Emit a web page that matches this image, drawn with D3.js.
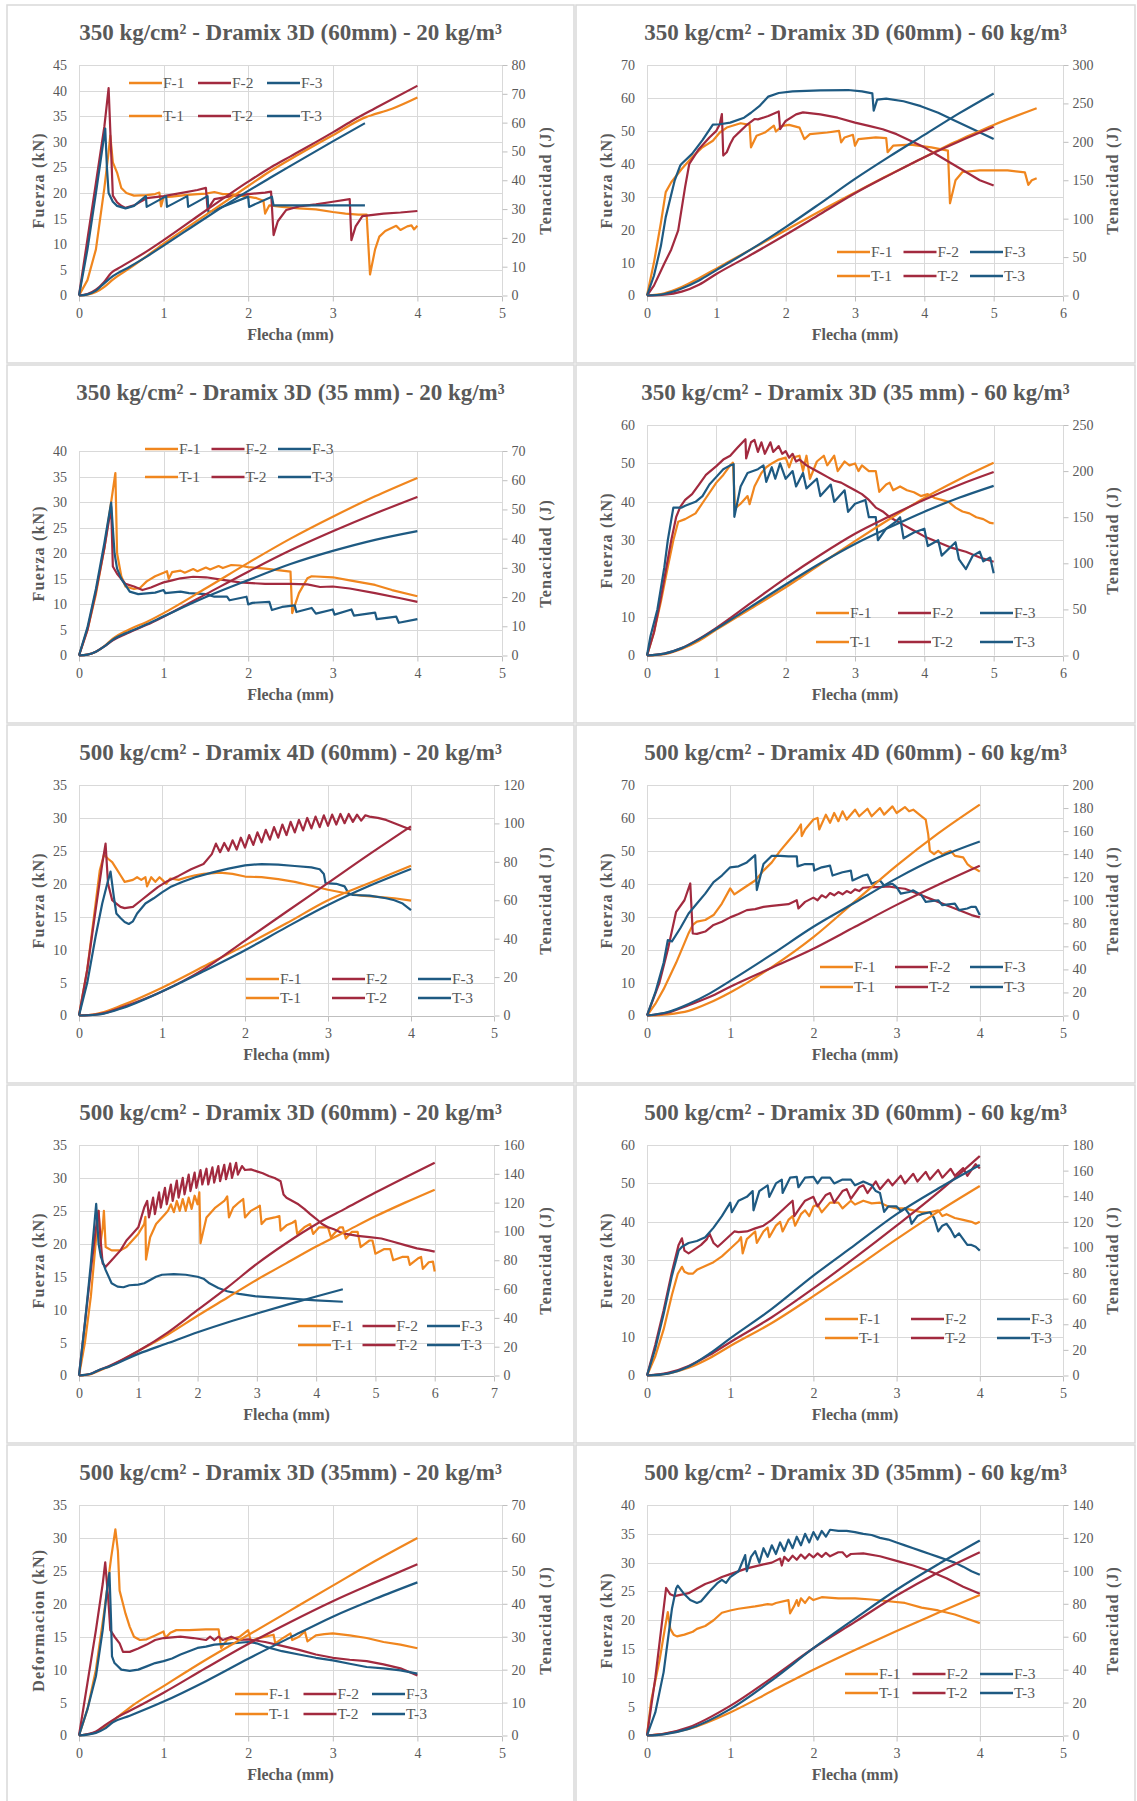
<!DOCTYPE html>
<html>
<head>
<meta charset="utf-8">
<script src="https://cdn.jsdelivr.net/npm/d3@7"></script>
<style>
body { margin: 0; background: #fff; }
svg text { font-family: "Liberation Serif", "Times New Roman", serif; fill: #595959; }
</style>
</head>
<body>
<script>
'use strict';

// ---- chart text and axes ----
const titles = [
	'350 kg/cm² - Dramix 3D (60mm) - 20 kg/m³',
	'350 kg/cm² - Dramix 3D (60mm) - 60 kg/m³',
	'350 kg/cm² - Dramix 3D (35 mm) - 20 kg/m³',
	'350 kg/cm² - Dramix 3D (35 mm) - 60 kg/m³',
	'500 kg/cm² - Dramix 4D (60mm) - 20 kg/m³',
	'500 kg/cm² - Dramix 4D (60mm) - 60 kg/m³',
	'500 kg/cm² - Dramix 3D (60mm) - 20 kg/m³',
	'500 kg/cm² - Dramix 3D (60mm) - 60 kg/m³',
	'500 kg/cm² - Dramix 3D (35mm) - 20 kg/m³',
	'500 kg/cm² - Dramix 3D (35mm) - 60 kg/m³'
];
const leftTitles = ['Fuerza (kN)', 'Fuerza (kN)', 'Fuerza (kN)', 'Fuerza (kN)', 'Fuerza (kN)',
	'Fuerza (kN)', 'Fuerza (kN)', 'Fuerza (kN)', 'Deformacion (kN)', 'Fuerza (kN)'];
const rightTitle = 'Tenacidad (J)';
const xTitle = 'Flecha (mm)';
const xMax = [5, 6, 5, 6, 5, 5, 7, 5, 5, 5];
const yMax = [45, 70, 40, 60, 35, 70, 35, 60, 35, 40];
const yStep = [5, 10, 5, 10, 5, 10, 5, 10, 5, 5];
const y2Max = [80, 300, 70, 250, 120, 200, 160, 180, 70, 140];
const y2Step = [10, 50, 10, 50, 20, 20, 20, 20, 10, 20];
const seriesNames = ['F-1', 'F-2', 'F-3', 'T-1', 'T-2', 'T-3'];

// ---- series: [flecha mm, value] (F on left axis, T on right axis) ----
const p1F1 = [[0,0],[0.1,3],[0.2,9],[0.3,21],[0.35,28],[0.37,31.2],[0.4,26],[0.45,24],[0.5,21],[0.56,20],[0.65,19.5],[0.8,19.6],[0.9,19.8],[0.95,20.1],[0.97,17.4],[1.0,19.2],[1.1,19.3],[1.25,19.6],[1.4,19.8],[1.5,19.9],[1.6,20.2],[1.7,19.8],[1.8,19.8],[1.9,19.5],[2.0,19.3],[2.1,19],[2.18,18.5],[2.2,16],[2.25,17.6],[2.4,17.3],[2.6,17],[2.8,16.8],[3.0,16.3],[3.15,16],[3.3,15.8],[3.4,15.8],[3.44,4.1],[3.5,9],[3.55,11.5],[3.62,12.6],[3.75,13.6],[3.8,12.8],[3.88,13.5],[3.93,13.7],[3.96,12.9],[4.0,13.6]];
const p1F2 = [[0,0],[0.1,11],[0.2,22],[0.3,33],[0.35,40.5],[0.38,28],[0.4,19.5],[0.45,18.2],[0.5,17.5],[0.55,17.1],[0.65,17.6],[0.8,19],[1.0,19.4],[1.2,20],[1.4,20.6],[1.5,21],[1.52,16.8],[1.6,18.8],[1.8,19.4],[2.0,19.8],[2.2,20.1],[2.27,20.3],[2.3,11.8],[2.35,14.5],[2.45,16.7],[2.6,17.4],[2.8,17.8],[3.0,18.3],[3.2,18.8],[3.22,10.8],[3.27,13.5],[3.35,15.5],[3.6,16],[3.8,16.2],[4.0,16.5]];
const p1F3 = [[0,0],[0.1,9],[0.2,20],[0.27,28],[0.31,32.6],[0.33,25],[0.35,20],[0.4,18.3],[0.45,17.5],[0.55,17],[0.65,17.5],[0.79,19.4],[0.8,17.3],[1.03,19.4],[1.04,17.3],[1.28,19.4],[1.29,17.3],[1.52,19.4],[1.53,16.2],[2.0,19.3],[2.01,17.3],[2.28,19.3],[2.3,17.6],[2.8,17.6],[3.38,17.6]];
const p1T1 = [[0,0],[0.1,0.3],[0.2,1.2],[0.3,3],[0.4,5.5],[0.6,9.5],[0.8,13.7],[1.0,18],[1.5,28],[2.0,38],[2.2,42],[2.6,49],[3.0,55.6],[3.4,62],[3.45,62.5],[3.7,64.8],[4.0,68.7]];
const p1T2 = [[0,0],[0.1,0.5],[0.2,2],[0.3,4.8],[0.38,7.8],[0.5,10],[0.8,15.3],[1.0,19.2],[1.5,29.5],[2.0,39.5],[2.27,44.5],[2.5,48.3],[3.0,56.6],[3.22,60.5],[3.5,65],[4.0,72.8]];
const p1T3 = [[0,0],[0.1,0.4],[0.2,1.7],[0.3,4.3],[0.4,6.7],[0.6,10],[0.8,13.5],[1.0,17.3],[1.5,27],[2.0,36.3],[2.28,41.2],[2.5,45],[3.0,53.5],[3.38,59.8]];

const p2F1 = [[0,0],[0.1,10],[0.2,22],[0.27,31.4],[0.35,34.4],[0.5,38.4],[0.65,42],[0.8,45],[0.95,47],[1.05,49.5],[1.15,51],[1.35,52.3],[1.48,51.8],[1.5,45],[1.58,48.5],[1.7,49.5],[1.83,51.6],[1.86,49.8],[1.95,51.5],[2.05,51.8],[2.2,51],[2.27,47.5],[2.35,49],[2.6,49.5],[2.77,50],[2.8,46.5],[2.85,48],[2.97,48.8],[3.0,45.5],[3.05,47.5],[3.3,48],[3.45,47.8],[3.47,43.5],[3.55,45.5],[3.8,45.8],[4.1,45],[4.34,44],[4.37,28],[4.45,35],[4.55,37.5],[4.8,38],[5.2,38],[5.45,37.4],[5.5,33.6],[5.55,35],[5.62,35.6]];
const p2F2 = [[0,0],[0.1,3],[0.25,9.7],[0.35,14],[0.45,19.8],[0.55,33],[0.61,40],[0.75,44.5],[0.9,48],[1.0,50],[1.05,52],[1.08,55.1],[1.1,42.5],[1.15,43.5],[1.2,46],[1.25,48],[1.35,50],[1.45,52],[1.55,53.6],[1.6,53.5],[1.75,54.5],[1.9,55.9],[1.92,50.5],[2.0,53],[2.15,55],[2.25,55.6],[2.5,55],[2.75,54],[3.0,52.5],[3.2,51.5],[3.4,50.5],[3.6,49],[3.8,47],[4.0,45],[4.2,42.5],[4.4,40],[4.6,37.5],[4.8,35],[5.0,33.4]];
const p2F3 = [[0,0],[0.1,6],[0.2,15],[0.27,23.8],[0.4,35],[0.48,39.5],[0.5,40],[0.65,43],[0.8,47.2],[0.95,51.9],[1.05,52],[1.2,52.5],[1.4,54],[1.5,55.5],[1.62,57.5],[1.75,60.4],[1.9,61.5],[2.1,62],[2.5,62.3],[2.9,62.4],[3.1,62],[3.25,61.4],[3.27,56.1],[3.32,59.5],[3.45,59.8],[3.7,59],[3.95,57.5],[4.2,55.5],[4.45,53],[4.75,50],[5.0,47.5]];
const p2T1 = [[0,0],[0.25,3],[0.5,11],[0.75,22.5],[1.0,35],[1.5,60],[2.0,85],[2.5,110],[3.0,134],[3.5,157.5],[4.0,180],[4.35,196],[4.5,202],[5.0,222],[5.62,243.8]];
const p2T2 = [[0,0],[0.25,1],[0.5,5],[0.75,14],[1.0,28],[1.5,53],[2.0,79],[2.5,106],[3.0,133],[3.5,157],[4.0,180],[4.5,200.5],[5.0,219.6]];
const p2T3 = [[0,0],[0.25,2],[0.5,9],[0.75,19.5],[1.0,33],[1.5,60],[2.0,89],[2.5,120],[3.0,151.7],[3.5,181],[4.0,209],[4.5,237],[5.0,263]];

const p3F1 = [[0,0],[0.1,5],[0.2,12],[0.3,21],[0.38,30],[0.43,35.7],[0.45,20],[0.5,15.5],[0.55,13.5],[0.65,13],[0.72,13.2],[0.8,14.5],[0.9,15.5],[1.0,16.2],[1.04,16.5],[1.06,15],[1.1,16.3],[1.2,16.6],[1.25,16.2],[1.35,16.9],[1.4,16.5],[1.5,17.2],[1.55,16.8],[1.65,17.5],[1.7,17.1],[1.8,17.7],[1.9,17.6],[2.0,17.3],[2.2,17],[2.4,16.6],[2.5,16.4],[2.52,8.3],[2.6,12.2],[2.7,15.1],[2.75,15.5],[3.0,15.3],[3.2,14.7],[3.5,13.8],[3.7,12.8],[4.0,11.6]];
const p3F2 = [[0,0],[0.1,5],[0.2,12.5],[0.3,21],[0.38,29.1],[0.4,17.4],[0.45,16],[0.55,14],[0.65,13.5],[0.75,12.8],[0.85,13.3],[0.95,14],[1.0,14.3],[1.1,14.7],[1.2,15.1],[1.35,15.4],[1.5,15.3],[1.7,14.8],[1.9,14.3],[2.2,14],[2.5,14],[2.7,13.9],[2.85,13.4],[3.0,13.5],[3.2,13.1],[3.5,12.2],[3.8,11.2],[4.0,10.5]];
const p3F3 = [[0,0],[0.1,5.5],[0.2,13],[0.3,22],[0.38,29.9],[0.42,20],[0.45,17],[0.5,15],[0.6,12.5],[0.7,12],[0.9,12.3],[1.0,12.8],[1.02,12.2],[1.2,12.5],[1.3,12.2],[1.5,12],[1.6,11.5],[1.75,11.5],[1.78,10.8],[1.98,11.5],[2.0,10],[2.05,10.3],[2.25,10.5],[2.28,8.9],[2.4,9.5],[2.55,9.8],[2.57,8.5],[2.75,9.3],[2.8,8.2],[3.0,9],[3.02,8],[3.22,9],[3.25,7.8],[3.5,8.4],[3.52,7.1],[3.75,7.6],[3.78,6.4],[4.0,7.1]];
const p3T1 = [[0,0],[0.1,0.3],[0.2,1.3],[0.3,3.2],[0.4,5.8],[0.6,9],[0.8,11.5],[1.0,14.5],[1.5,23],[2.0,31.7],[2.5,40],[3.0,47.5],[3.5,54.5],[4.0,60.8]];
const p3T2 = [[0,0],[0.1,0.3],[0.2,1.3],[0.3,3.1],[0.4,5.2],[0.6,8],[0.8,10.5],[1.0,13.3],[1.5,21],[2.0,28.7],[2.5,36],[3.0,42.5],[3.5,48.6],[4.0,54.3]];
const p3T3 = [[0,0],[0.1,0.3],[0.2,1.3],[0.3,3.1],[0.4,5.4],[0.6,8.2],[0.8,10.7],[1.0,13.4],[1.5,20],[2.0,25.8],[2.5,31.3],[3.0,35.8],[3.5,39.6],[4.0,42.6]];

const p4F1 = [[0,0],[0.1,6],[0.2,14],[0.3,23],[0.38,30],[0.45,34.8],[0.55,35.5],[0.7,37],[0.85,41],[1.0,45],[1.1,47],[1.2,49.5],[1.24,50.2],[1.27,38.3],[1.35,39.5],[1.45,41.5],[1.48,39.4],[1.55,44],[1.65,47.5],[1.72,49],[1.8,50],[1.9,51],[2.0,51.5],[2.05,49],[2.1,51.5],[2.2,52],[2.25,48],[2.3,52],[2.35,46],[2.45,50.5],[2.55,52],[2.6,49.5],[2.7,52],[2.75,48],[2.85,50.5],[2.92,49.5],[3.0,50],[3.05,48],[3.1,49.5],[3.2,48],[3.3,48],[3.35,42.6],[3.45,44.5],[3.5,45],[3.55,43],[3.65,44],[3.75,43],[3.85,42.5],[3.95,41.5],[4.05,42],[4.15,41],[4.25,40.5],[4.35,40],[4.45,38.5],[4.55,37.5],[4.65,37],[4.75,36],[4.85,35.5],[4.95,34.5],[5.0,34.4]];
const p4F2 = [[0,0],[0.1,6],[0.2,15],[0.3,25],[0.35,30],[0.42,36],[0.48,38.7],[0.55,40.5],[0.65,42],[0.75,44.5],[0.85,47],[1.0,49.3],[1.1,51],[1.2,52],[1.3,54],[1.42,56.3],[1.43,51.3],[1.5,55.5],[1.55,56.1],[1.6,53],[1.65,55.5],[1.7,52.5],[1.78,55.5],[1.82,53],[1.9,54.5],[1.95,52.5],[2.0,53.2],[2.05,51.5],[2.1,52.5],[2.15,50.5],[2.2,51],[2.3,49.5],[2.4,48.5],[2.5,47.5],[2.6,46.5],[2.7,45.5],[2.8,45],[2.9,44],[3.0,43],[3.1,42],[3.2,40.5],[3.3,38.5],[3.4,37.5],[3.5,36],[3.6,35],[3.7,34],[3.8,33],[3.9,32],[4.0,31],[4.2,29.5],[4.4,28],[4.6,27],[4.8,25.5],[5.0,24.4]];
const p4F3 = [[0,0],[0.05,5],[0.15,12],[0.25,23],[0.3,30],[0.38,38.5],[0.5,38.5],[0.55,39],[0.7,40],[0.8,41.5],[0.9,44.5],[1.0,46.5],[1.1,48.5],[1.2,49.5],[1.25,49.8],[1.26,36.1],[1.35,44],[1.45,47.5],[1.6,48.5],[1.68,49.5],[1.72,45.2],[1.8,49],[1.85,46],[1.92,50],[2.0,46],[2.1,48],[2.15,44],[2.25,47.5],[2.3,43.5],[2.45,46],[2.5,41.5],[2.65,44.5],[2.7,40],[2.85,43],[2.9,37.4],[3.0,39.5],[3.15,40.5],[3.2,36],[3.3,36],[3.33,30],[3.45,33],[3.6,35],[3.65,36],[3.7,30.5],[3.85,32],[4.0,33],[4.05,28.5],[4.2,30],[4.25,26],[4.45,29.5],[4.5,25],[4.6,22.5],[4.7,26],[4.8,27],[4.85,24.5],[4.95,25.5],[5.0,21.4]];
const p4T1 = [[0,0],[0.25,1.5],[0.5,7],[0.75,16],[1.0,28],[1.5,51],[2.0,74],[2.5,99],[3.0,124],[3.5,148],[4.0,171],[4.5,191],[5.0,209]];
const p4T2 = [[0,0],[0.25,2],[0.5,8],[0.75,18],[1.0,30],[1.5,57],[2.0,84],[2.5,109],[3.0,132],[3.5,151],[4.0,169],[4.5,185],[5.0,199]];
const p4T3 = [[0,0],[0.25,2],[0.5,8],[0.75,17.5],[1.0,29],[1.5,53],[2.0,77],[2.5,100],[3.0,121],[3.5,139],[4.0,156],[4.5,171],[5.0,184]];

const p5F1 = [[0,0],[0.1,7],[0.2,17],[0.25,22],[0.3,24.4],[0.35,23.8],[0.4,23.3],[0.45,22.3],[0.5,21.3],[0.55,20.3],[0.65,20.6],[0.7,21],[0.75,20.6],[0.8,21],[0.82,19.6],[0.87,21],[0.92,20.3],[0.97,21],[1.02,20.4],[1.05,20],[1.1,20.8],[1.2,20.6],[1.3,21],[1.4,21.3],[1.5,21.5],[1.7,21.7],[1.85,21.5],[2.0,21.1],[2.2,21],[2.4,20.7],[2.6,20.3],[2.8,19.7],[3.0,19.1],[3.2,18.6],[3.4,18.2],[3.6,18],[3.8,17.8],[4.0,17.45]];
const p5F2 = [[0,0],[0.1,7],[0.2,16],[0.28,23],[0.32,26.1],[0.35,20],[0.4,17.5],[0.45,17],[0.5,16.5],[0.55,16.3],[0.65,16.5],[0.75,17.5],[0.85,18.5],[0.95,19.5],[1.05,20.3],[1.2,21.2],[1.35,22.2],[1.5,23],[1.6,24.5],[1.65,26.1],[1.7,24.8],[1.75,26.2],[1.8,25],[1.85,26.6],[1.9,25.2],[1.95,27],[2.0,25.5],[2.05,27.4],[2.1,25.9],[2.15,27.8],[2.2,26.3],[2.25,28.2],[2.3,26.7],[2.35,28.6],[2.4,27],[2.45,29],[2.5,27.4],[2.55,29.4],[2.6,27.8],[2.65,29.7],[2.7,28.1],[2.75,30],[2.8,28.4],[2.85,30.2],[2.9,28.6],[2.95,30.4],[3.0,28.8],[3.05,30.5],[3.1,29],[3.15,30.6],[3.2,29.2],[3.25,30.6],[3.3,29.4],[3.35,30.5],[3.4,29.6],[3.45,30.4],[3.5,30.2],[3.6,30],[3.7,29.7],[3.8,29.2],[3.9,28.7],[4.0,28.2]];
const p5F3 = [[0,0],[0.1,5],[0.2,12],[0.28,17],[0.33,19.5],[0.38,21.85],[0.42,18],[0.45,15.5],[0.5,14.8],[0.55,14.2],[0.6,13.9],[0.65,14.3],[0.7,15.5],[0.8,17],[0.9,17.8],[1.0,18.7],[1.1,19.5],[1.25,20.3],[1.4,21],[1.6,21.7],[1.8,22.3],[2.0,22.8],[2.2,23],[2.4,22.9],[2.6,22.7],[2.8,22.5],[2.9,22.2],[2.95,21.5],[2.97,20.1],[3.1,20],[3.2,19.6],[3.25,18.5],[3.3,18.3],[3.5,18.2],[3.7,17.8],[3.8,17.5],[3.9,17],[4.0,16]];
const p5T1 = [[0,0],[0.2,0.8],[0.3,1.8],[0.5,5],[1.0,14.5],[1.5,25.5],[2.0,36.5],[2.5,48],[3.0,60],[3.5,69],[4.0,78]];
const p5T2 = [[0,0],[0.2,0.5],[0.3,1.2],[0.5,4],[1.0,12.5],[1.5,24],[2.0,39],[2.5,54],[3.0,69],[3.5,84],[4.0,98.5]];
const p5T3 = [[0,0],[0.2,0.4],[0.3,1],[0.5,3.5],[1.0,12.5],[1.5,23],[2.0,34],[2.5,46],[3.0,57.5],[3.5,67.5],[4.0,76.3]];

const p6F1 = [[0,0],[0.1,3.5],[0.2,8],[0.35,16],[0.45,22],[0.5,25],[0.55,27.5],[0.6,28.5],[0.7,29],[0.8,30.5],[0.9,34],[1.0,38.6],[1.05,36.8],[1.15,38.5],[1.3,41],[1.4,44],[1.5,46.5],[1.6,50],[1.7,53],[1.8,56],[1.85,58],[1.86,54.5],[1.9,56.5],[2.0,59.5],[2.05,60],[2.07,56.5],[2.15,61],[2.2,58.5],[2.25,61.5],[2.3,59],[2.35,62],[2.4,59.5],[2.5,62.5],[2.55,60.5],[2.65,62.8],[2.7,60.5],[2.8,63],[2.85,61],[2.95,63.5],[3.0,61.5],[3.1,63.3],[3.15,62],[3.2,62.5],[3.3,60.5],[3.35,59.5],[3.38,55],[3.4,50],[3.45,49],[3.5,50],[3.55,49],[3.65,50],[3.7,48.5],[3.8,48],[3.85,46],[3.9,45],[3.95,44.5],[4.0,43.7]];
const p6F2 = [[0,0],[0.15,10],[0.25,20],[0.35,31.5],[0.45,35],[0.52,40.1],[0.55,24.9],[0.6,24.8],[0.7,25.5],[0.8,27.5],[0.9,28.5],[1.0,29.8],[1.1,30.8],[1.2,32],[1.3,32.3],[1.4,33],[1.5,33.3],[1.7,33.8],[1.8,35],[1.82,32.5],[1.9,34.5],[2.0,35.8],[2.05,35],[2.1,36.5],[2.15,35.8],[2.2,37.2],[2.25,36.5],[2.3,37.5],[2.35,36.8],[2.4,37.8],[2.45,37.2],[2.5,38.3],[2.55,37.8],[2.6,38.8],[2.7,39],[2.8,39],[2.9,39.2],[3.0,38.8],[3.1,38.5],[3.2,37.5],[3.3,36.5],[3.4,35.5],[3.5,34.5],[3.6,33.5],[3.7,32.5],[3.8,31.5],[3.9,30.5],[4.0,29.8]];
const p6F3 = [[0,0],[0.1,7],[0.2,16],[0.25,22.9],[0.3,22.5],[0.4,26.5],[0.5,31],[0.6,34],[0.7,37],[0.8,40.5],[0.9,42.5],[1.0,45],[1.1,45.3],[1.2,46.5],[1.3,48.7],[1.32,38.1],[1.4,46],[1.5,48.5],[1.6,48.5],[1.7,48.3],[1.8,48.3],[1.81,45.3],[1.9,46],[2.0,46],[2.01,44],[2.1,45],[2.2,45.5],[2.23,42.5],[2.35,43.5],[2.45,44],[2.47,41],[2.6,42.5],[2.65,42.8],[2.7,40],[2.8,41],[2.85,39.5],[2.95,40],[3.0,39],[3.05,37],[3.15,37.5],[3.2,38],[3.3,36.5],[3.35,34.5],[3.5,35],[3.55,33.5],[3.7,34],[3.75,32],[3.85,32.5],[3.9,33],[3.95,33],[4.0,30.5]];
const p6T1 = [[0,0],[0.25,1],[0.5,4],[0.75,11],[1.0,20],[1.5,42],[2.0,68],[2.5,99],[3.0,130],[3.5,158],[4.0,183]];
const p6T2 = [[0,0],[0.25,2.5],[0.5,9],[0.75,16],[1.0,25],[1.5,41.5],[2.0,58],[2.5,77],[3.0,96],[3.5,113.5],[4.0,130]];
const p6T3 = [[0,0],[0.25,3],[0.5,10],[0.75,19],[1.0,30],[1.5,53],[2.0,77],[2.5,98],[3.0,119],[3.5,137],[4.0,151]];

const p7F1 = [[0,0],[0.1,5],[0.2,12],[0.3,22],[0.33,25],[0.36,20],[0.4,22.5],[0.42,25],[0.45,19.5],[0.55,19],[0.7,19],[0.8,19.5],[0.9,20.5],[1.0,21.5],[1.1,23],[1.12,24.1],[1.13,17.6],[1.2,21],[1.3,23],[1.45,24.5],[1.5,25],[1.55,26],[1.6,24.8],[1.65,26.5],[1.7,25],[1.75,26.8],[1.8,25],[1.85,27],[1.9,25.3],[1.95,27.3],[2.0,26],[2.03,27.8],[2.05,20.1],[2.15,24],[2.3,25.5],[2.45,26.5],[2.5,27.2],[2.53,24],[2.6,25.5],[2.7,26.3],[2.77,26.8],[2.8,24],[2.9,25],[3.0,25.5],[3.05,25.8],[3.08,23],[3.15,23.7],[3.3,24],[3.38,24.2],[3.4,22],[3.5,22.8],[3.6,23.2],[3.65,23.5],[3.68,21.5],[3.8,22.5],[3.9,23],[3.95,21.5],[4.05,22.5],[4.2,22.5],[4.25,21],[4.4,22.5],[4.45,22.5],[4.5,20.8],[4.6,21.8],[4.7,21.8],[4.75,19.5],[4.9,20.5],[4.95,20.5],[5.0,18.5],[5.15,19.2],[5.25,19.2],[5.3,17.5],[5.45,18],[5.55,18],[5.58,16.8],[5.72,17.8],[5.77,18],[5.8,16.2],[5.9,17.2],[5.97,17.3],[6.0,15.8]];
const p7F2 = [[0,0],[0.1,8],[0.2,16],[0.28,22],[0.33,25],[0.37,20],[0.4,17],[0.45,16.5],[0.55,17.5],[0.7,19],[0.8,20.5],[0.9,21.5],[1.0,22.5],[1.05,24],[1.1,25.5],[1.15,26.5],[1.18,24],[1.25,27],[1.28,24.5],[1.35,27.8],[1.38,25.5],[1.45,28.5],[1.48,26],[1.55,29],[1.58,26.5],[1.65,29.6],[1.68,27],[1.75,30],[1.78,27.5],[1.85,30.5],[1.88,28],[1.95,30.8],[1.98,28.5],[2.05,31.2],[2.08,29],[2.15,31.4],[2.18,29],[2.25,31.6],[2.28,29.3],[2.35,31.8],[2.38,29.5],[2.45,32],[2.48,29.8],[2.55,32.2],[2.58,30],[2.65,32.3],[2.68,30.5],[2.75,31.8],[2.8,31.2],[2.9,31.3],[3.0,31],[3.1,30.7],[3.2,30.3],[3.3,30],[3.4,29.5],[3.45,27.5],[3.5,27],[3.6,26.5],[3.7,26],[3.8,25.3],[3.9,24.5],[4.0,23.8],[4.1,23],[4.2,22.5],[4.3,22.2],[4.4,21.8],[4.5,21.5],[4.7,21.2],[4.9,21],[5.1,20.8],[5.3,20.3],[5.5,19.8],[5.7,19.3],[5.9,19],[6.0,18.8]];
const p7F3 = [[0,0],[0.1,8],[0.2,17],[0.29,26.05],[0.33,20],[0.37,18],[0.45,16],[0.55,14],[0.65,13.5],[0.75,13.4],[0.85,13.7],[1.0,13.8],[1.1,14],[1.2,14.5],[1.3,15],[1.4,15.3],[1.6,15.4],[1.8,15.3],[2.0,15],[2.1,14.7],[2.2,14],[2.35,13.3],[2.5,12.8],[2.7,12.4],[3.0,12],[3.5,11.7],[4.0,11.4],[4.45,11.2]];
const p7T1 = [[0,0],[0.2,1],[0.35,3.5],[0.5,6],[1.0,17],[1.5,28.5],[2.0,41.5],[2.5,54],[3.0,66.5],[3.5,78],[4.0,89.5],[4.5,100],[5.0,110.5],[5.5,120],[6.0,129]];
const p7T2 = [[0,0],[0.2,1.2],[0.35,4],[0.5,6.5],[1.0,17],[1.5,30],[2.0,45.5],[2.5,61],[3.0,77.5],[3.5,92],[4.0,105],[4.5,116],[5.0,127],[5.5,137.5],[6.0,147.7]];
const p7T3 = [[0,0],[0.2,1.2],[0.35,4],[0.5,6],[1.0,15],[1.5,22.5],[2.0,30],[2.5,36.8],[3.0,43],[3.5,49],[4.0,54.8],[4.45,59.9]];

const p8F1 = [[0,0],[0.1,5],[0.2,12],[0.3,21],[0.37,26.5],[0.42,28.3],[0.45,27],[0.5,26.5],[0.55,26.5],[0.6,27.5],[0.7,28.5],[0.8,29.5],[0.9,31],[1.0,33],[1.1,35],[1.13,36],[1.15,31.8],[1.2,35.5],[1.3,37.5],[1.32,34.5],[1.4,37.5],[1.45,38.5],[1.47,36],[1.55,39],[1.6,40],[1.63,37.5],[1.7,40.5],[1.75,41.5],[1.78,39],[1.85,42],[1.9,43],[1.95,41.5],[2.0,44],[2.05,44.5],[2.1,42.5],[2.2,45],[2.3,45],[2.35,43.5],[2.45,45.5],[2.5,44.5],[2.6,45.5],[2.7,44.8],[2.8,45],[2.9,44],[3.0,43.5],[3.1,43.5],[3.2,43],[3.3,42.5],[3.4,42.5],[3.5,43],[3.55,41.5],[3.6,42],[3.7,41],[3.8,40.5],[3.9,40],[3.95,39.5],[4.0,40]];
const p8F2 = [[0,0],[0.1,8],[0.2,17],[0.3,27],[0.38,34],[0.42,35.7],[0.45,32.5],[0.5,31.8],[0.55,32.5],[0.65,34],[0.72,35.5],[0.75,37],[0.8,34.5],[0.85,33.5],[0.9,34.5],[1.0,36.5],[1.05,37.5],[1.1,37.3],[1.2,37.5],[1.3,38.3],[1.4,39],[1.5,40.5],[1.6,42.5],[1.7,44.5],[1.75,45.5],[1.77,41.5],[1.85,44],[1.9,45.5],[2.0,46.5],[2.05,44],[2.15,47],[2.2,47.5],[2.25,45],[2.35,48],[2.4,48.5],[2.45,46],[2.55,49],[2.6,49.5],[2.65,47.5],[2.75,50.5],[2.8,48.5],[2.9,51],[2.95,49.5],[3.05,52],[3.1,50],[3.2,52.5],[3.25,50.5],[3.35,53],[3.4,51],[3.5,53.5],[3.55,51.5],[3.65,53.8],[3.7,52],[3.8,54],[3.85,52],[3.95,55],[4.0,53.9]];
const p8F3 = [[0,0],[0.1,7],[0.2,16],[0.3,26],[0.38,32.5],[0.42,33.5],[0.5,34.5],[0.6,35],[0.7,36],[0.8,38.5],[0.9,41.5],[1.0,45],[1.02,42.5],[1.1,45.5],[1.2,46.5],[1.27,48],[1.28,43],[1.35,48],[1.45,49.5],[1.47,46.5],[1.55,50],[1.62,51],[1.63,47.5],[1.72,51.5],[1.8,51.7],[1.82,49],[1.9,51.5],[2.0,51.7],[2.05,50],[2.1,51.5],[2.2,51.5],[2.25,50],[2.35,51],[2.45,51],[2.5,49.5],[2.6,50.5],[2.7,49.5],[2.75,48],[2.8,47.5],[2.85,42.6],[2.9,44],[3.0,44],[3.05,42.8],[3.1,43.5],[3.15,42],[3.18,39.5],[3.25,41.5],[3.3,42],[3.4,42.5],[3.45,41],[3.5,37.5],[3.55,39],[3.6,39.5],[3.65,38],[3.7,36],[3.75,37],[3.8,35.5],[3.85,34],[3.9,34],[3.95,33.5],[4.0,32.5]];
const p8T1 = [[0,0],[0.25,1.5],[0.5,6],[0.75,13.5],[1.0,23],[1.5,41],[2.0,62],[2.5,84],[3.0,106.5],[3.5,128],[4.0,148]];
const p8T2 = [[0,0],[0.25,2],[0.5,7.5],[0.75,16],[1.0,26],[1.5,45.5],[2.0,68],[2.5,92],[3.0,117],[3.5,143],[4.0,171.4]];
const p8T3 = [[0,0],[0.25,1.5],[0.5,7],[0.75,17],[1.0,29],[1.5,52],[2.0,78],[2.5,102],[3.0,126],[3.5,146],[4.0,164.4]];

const p9F1 = [[0,0],[0.1,4],[0.2,10],[0.3,19],[0.38,27],[0.43,31.3],[0.46,28],[0.48,22],[0.52,20],[0.55,18.5],[0.6,16.5],[0.65,15],[0.72,14.5],[0.8,14.6],[0.9,15.2],[1.0,15.8],[1.02,14.8],[1.08,15.6],[1.15,16],[1.3,16],[1.5,16.1],[1.65,16.1],[1.68,13.3],[1.75,14.5],[1.9,15],[1.95,15.5],[2.0,16],[2.03,14.3],[2.1,14.7],[2.3,15.3],[2.32,14],[2.4,14.7],[2.5,15.5],[2.52,14.5],[2.6,15],[2.67,15.8],[2.7,14.3],[2.8,15.2],[2.9,15.4],[3.0,15.5],[3.2,15.2],[3.4,14.8],[3.6,14.2],[3.8,13.8],[4.0,13.25]];
const p9F2 = [[0,0],[0.1,8],[0.2,16],[0.28,23],[0.31,26.3],[0.35,20],[0.37,16],[0.42,15],[0.48,14],[0.52,12.7],[0.6,12.7],[0.7,13.2],[0.8,13.8],[0.9,14.5],[1.0,14.8],[1.2,15],[1.35,14.8],[1.5,14.5],[1.55,15],[1.6,14.5],[1.65,15],[1.7,14.5],[1.8,15],[1.9,14.5],[2.0,14.6],[2.2,14.2],[2.4,13.6],[2.6,13],[2.8,12.3],[3.0,11.8],[3.2,11.5],[3.4,11.3],[3.6,10.8],[3.8,10.2],[4.0,9.1]];
const p9F3 = [[0,0],[0.1,4],[0.2,9],[0.28,16],[0.33,22],[0.36,24.7],[0.38,17],[0.39,12],[0.42,11],[0.5,10],[0.6,9.8],[0.7,10],[0.8,10.5],[0.9,11],[1.0,11.3],[1.1,11.7],[1.2,12.3],[1.3,12.8],[1.4,13.3],[1.5,13.5],[1.6,13.8],[1.8,14],[2.0,14.2],[2.1,14],[2.2,13.5],[2.4,12.8],[2.6,12.3],[2.8,11.8],[3.0,11.4],[3.2,10.9],[3.4,10.4],[3.6,10.2],[3.8,9.9],[4.0,9.4]];
const p9T1 = [[0,0],[0.2,1],[0.3,2.5],[0.45,5.5],[0.6,8.5],[1.0,15],[1.5,23],[2.0,30.5],[2.5,38],[3.0,45.5],[3.5,53],[4.0,60]];
const p9T2 = [[0,0],[0.2,1.2],[0.3,3],[0.45,5.5],[0.6,7.5],[1.0,13],[1.5,20.5],[2.0,27.8],[2.5,34.5],[3.0,40.8],[3.5,46.5],[4.0,52]];
const p9T3 = [[0,0],[0.2,0.8],[0.3,2],[0.4,4],[0.6,6],[1.0,10.3],[1.5,16.5],[2.0,23.3],[2.5,29.8],[3.0,36.1],[3.5,41.5],[4.0,46.5]];

const p10F1 = [[0,0],[0.05,6],[0.15,13],[0.22,19],[0.25,21.4],[0.28,18.5],[0.32,17.5],[0.36,17.2],[0.45,17.5],[0.55,18],[0.6,18.5],[0.7,19],[0.8,20],[0.9,21.3],[1.0,21.7],[1.1,22],[1.3,22.4],[1.45,22.8],[1.5,22.7],[1.55,23],[1.7,23.5],[1.72,21.2],[1.77,22.5],[1.8,23.5],[1.82,22.5],[1.85,23.8],[1.9,23],[1.95,24],[2.0,23.5],[2.1,24],[2.3,23.8],[2.5,23.8],[2.7,23.6],[2.9,23.3],[3.1,23],[3.3,22.2],[3.5,21.7],[3.7,21],[3.9,20],[4.0,19.5]];
const p10F2 = [[0,0],[0.1,10],[0.2,22],[0.23,25.6],[0.28,24.5],[0.33,24.2],[0.4,24.4],[0.5,24.7],[0.6,25.5],[0.7,26.3],[0.8,26.8],[0.9,27.5],[1.0,28],[1.2,29],[1.4,29.7],[1.5,30],[1.6,30.7],[1.62,29.5],[1.65,31],[1.7,30.3],[1.75,31.2],[1.8,30.5],[1.85,31.4],[1.9,30.7],[1.95,31.5],[2.0,30.9],[2.05,31.6],[2.1,31],[2.15,31.7],[2.2,31.1],[2.3,31.8],[2.35,31.8],[2.4,31],[2.45,31.5],[2.6,31.6],[2.8,31.1],[3.0,30.3],[3.2,29.5],[3.4,28.5],[3.6,27.3],[3.8,25.8],[4.0,24.6]];
const p10F3 = [[0,0],[0.1,4],[0.2,11],[0.3,22],[0.35,25.5],[0.37,26],[0.45,24.5],[0.52,23.5],[0.6,23],[0.65,23.3],[0.75,25],[0.85,26.5],[0.9,27],[0.95,26.5],[1.0,27.5],[1.1,28.5],[1.18,31.3],[1.2,28.5],[1.25,31],[1.3,32],[1.35,30],[1.4,32.5],[1.45,31],[1.5,33],[1.55,31.5],[1.6,33.5],[1.65,32],[1.7,34],[1.75,32.5],[1.8,34.5],[1.85,33],[1.9,35],[1.95,33.5],[2.0,35.3],[2.05,34],[2.1,35.5],[2.15,34.5],[2.2,35.7],[2.3,35.5],[2.4,35.5],[2.5,35.3],[2.6,35],[2.7,34.8],[2.8,34.3],[2.9,34],[3.0,33.5],[3.1,33],[3.2,32.5],[3.3,32],[3.4,31.5],[3.5,31],[3.6,30.5],[3.7,30],[3.8,29.3],[3.9,28.5],[4.0,27.9]];
const p10T1 = [[0,0],[0.2,1],[0.5,4],[1.0,14],[1.5,27],[2.0,40],[2.5,52],[3.0,63.5],[3.5,74.5],[4.0,85.4]];
const p10T2 = [[0,0],[0.2,1],[0.5,5],[1.0,18],[1.5,35],[2.0,53],[2.5,69],[3.0,85],[3.5,99],[4.0,111.3]];
const p10T3 = [[0,0],[0.2,0.7],[0.5,4],[1.0,16],[1.5,33.5],[2.0,53],[2.5,71],[3.0,88.5],[3.5,104],[4.0,118.4]];

const panelSeries = [
	[p1F1, p1F2, p1F3, p1T1, p1T2, p1T3],
	[p2F1, p2F2, p2F3, p2T1, p2T2, p2T3],
	[p3F1, p3F2, p3F3, p3T1, p3T2, p3T3],
	[p4F1, p4F2, p4F3, p4T1, p4T2, p4T3],
	[p5F1, p5F2, p5F3, p5T1, p5T2, p5T3],
	[p6F1, p6F2, p6F3, p6T1, p6T2, p6T3],
	[p7F1, p7F2, p7F3, p7T1, p7T2, p7T3],
	[p8F1, p8F2, p8F3, p8T1, p8T2, p8T3],
	[p9F1, p9F2, p9F3, p9T1, p9T2, p9T3],
	[p10F1, p10F2, p10F3, p10T1, p10T2, p10T3]
];

// ---- layout (pixels, relative to each cell) ----
const FONT = '"Liberation Serif", "Times New Roman", serif';
const colors = ['#F0861E', '#A22A3F', '#1E5A82'];
const colX = [0, 570];
const rowY = [0, 360, 720, 1080, 1440];
const frames = [
	{left: 79, right: 502, top: 65, lx: 129, ly: [83, 116], ldx: 69},
	{left: 77, right: 493, top: 65, lx: 267, ly: [252, 276], ldx: 66.5},
	{left: 79, right: 502, top: 91, lx: 145, ly: [89, 117], ldx: 66.5},
	{left: 77, right: 493, top: 65, lx: 246, ly: [253, 282], ldx: 82},
	{left: 79, right: 494, top: 65, lx: 246, ly: [259, 278], ldx: 86},
	{left: 77, right: 493, top: 65, lx: 250, ly: [247, 267], ldx: 75},
	{left: 79, right: 494, top: 65, lx: 298, ly: [246, 265], ldx: 64.5},
	{left: 77, right: 493, top: 65, lx: 255, ly: [239, 258], ldx: 86},
	{left: 79, right: 502, top: 65, lx: 235, ly: [254, 274], ldx: 68.5},
	{left: 77, right: 493, top: 65, lx: 275, ly: [234, 253], ldx: 67.5}
];
const bottom = 295.5;

const svg = d3.select('body').append('svg')
	.attr('width', 1137)
	.attr('height', 1801)
	.attr('font-family', FONT);

for (let i=0 ; i<10 ; ++i) {
	let c = i % 2;
	let r = Math.floor(i / 2);
	let f = frames[i];
	let g = svg.append('g').attr('transform', 'translate('+colX[c]+','+rowY[r]+')');

	// cell border
	let bx = c === 0 ? 7 : 6;
	let bw = c === 0 ? 567 : 559;
	g.append('rect')
		.attr('x', bx).attr('y', 5)
		.attr('width', bw).attr('height', 358)
		.attr('fill', 'none')
		.attr('stroke', '#d9d9d9')
		.attr('stroke-width', 1.5);

	let x = d3.scaleLinear().domain([0, xMax[i]]).range([f.left, f.right]);
	let yl = d3.scaleLinear().domain([0, yMax[i]]).range([bottom, f.top]);
	let yr = d3.scaleLinear().domain([0, y2Max[i]]).range([bottom, f.top]);
	let xt = d3.range(0, xMax[i] + 0.001, 1);
	let ylt = d3.range(0, yMax[i] + 0.001, yStep[i]);
	let yrt = d3.range(0, y2Max[i] + 0.001, y2Step[i]);

	// grid
	let grid = g.append('g').attr('stroke', '#d9d9d9').attr('stroke-width', 1);
	grid.selectAll('line.h').data(ylt).join('line')
		.attr('x1', f.left).attr('x2', f.right)
		.attr('y1', d => Math.round(yl(d)) + 0.5).attr('y2', d => Math.round(yl(d)) + 0.5);
	grid.selectAll('line.v').data(xt).join('line')
		.attr('x1', d => Math.round(x(d)) + 0.5).attr('x2', d => Math.round(x(d)) + 0.5)
		.attr('y1', f.top).attr('y2', bottom);

	// axes
	let ax = g.append('g').attr('transform', 'translate(0,'+(Math.round(bottom) + 0.5)+')')
		.call(d3.axisBottom(x).tickValues(xt).tickSize(5).tickPadding(7).tickFormat(d3.format('d')));
	let al = g.append('g').attr('transform', 'translate('+f.left+',0)')
		.call(d3.axisLeft(yl).tickValues(ylt).tickSize(0).tickPadding(12).tickFormat(d3.format('d')));
	let ar = g.append('g').attr('transform', 'translate('+(Math.round(f.right) + 0.5)+',0)')
		.call(d3.axisRight(yr).tickValues(yrt).tickSize(5).tickPadding(4).tickFormat(d3.format('d')));
	for (let a of [ax, al, ar]) {
		a.attr('font-family', FONT).attr('font-size', 14);
		a.select('.domain').remove();
		a.selectAll('.tick line').attr('stroke', '#bfbfbf');
		a.selectAll('.tick text').attr('fill', '#595959').style('font-family', FONT).style('font-size', '14px');
	}
	ax.append('line').attr('x1', f.left).attr('x2', f.right).attr('stroke', '#bfbfbf');

	// series
	let lineF = d3.line().x(d => x(d[0])).y(d => yl(d[1]));
	let lineT = d3.line().x(d => x(d[0])).y(d => yr(d[1])).curve(d3.curveMonotoneX);
	let ss = panelSeries[i];
	for (let j=0 ; j<6 ; ++j) {
		g.append('path')
			.datum(ss[j])
			.attr('d', j < 3 ? lineF : lineT)
			.attr('fill', 'none')
			.attr('stroke', colors[j % 3])
			.attr('stroke-width', 2.2)
			.attr('stroke-linejoin', 'round');
	}

	// legend
	for (let j=0 ; j<6 ; ++j) {
		let lx = f.lx + (j % 3) * f.ldx;
		let ly = f.ly[Math.floor(j / 3)];
		g.append('line')
			.attr('x1', lx).attr('x2', lx + 33)
			.attr('y1', ly).attr('y2', ly)
			.attr('stroke', colors[j % 3])
			.attr('stroke-width', 2.5);
		g.append('text')
			.attr('x', lx + 34).attr('y', ly + 5)
			.style('font-family', FONT)
			.style('font-size', '15.5px')
			.text(seriesNames[j]);
	}

	// titles
	let cx = bx + bw / 2;
	g.append('text')
		.attr('x', cx).attr('y', 40)
		.attr('text-anchor', 'middle')
		.style('font-family', FONT)
		.style('font-size', '23px').style('font-weight', 'bold')
		.text(titles[i]);
	g.append('text')
		.attr('x', (f.left + f.right) / 2).attr('y', 340)
		.attr('text-anchor', 'middle')
		.style('font-family', FONT)
		.style('font-size', '16px').style('font-weight', 'bold')
		.text(xTitle);
	let cy = (f.top + bottom) / 2;
	let lxT = c === 0 ? 38.5 : 36;
	g.append('text')
		.attr('transform', 'translate('+lxT+','+cy+') rotate(-90)')
		.attr('text-anchor', 'middle').attr('dominant-baseline', 'central')
		.style('font-family', FONT)
		.style('font-size', '16px').style('font-weight', 'bold').style('letter-spacing', '1.2px')
		.text(leftTitles[i]);
	let rxT = c === 0 ? 545 : 542;
	g.append('text')
		.attr('transform', 'translate('+rxT+','+cy+') rotate(-90)')
		.attr('text-anchor', 'middle').attr('dominant-baseline', 'central')
		.style('font-family', FONT)
		.style('font-size', '16px').style('font-weight', 'bold').style('letter-spacing', '1.2px')
		.text(rightTitle);
}
</script>
</body>
</html>
